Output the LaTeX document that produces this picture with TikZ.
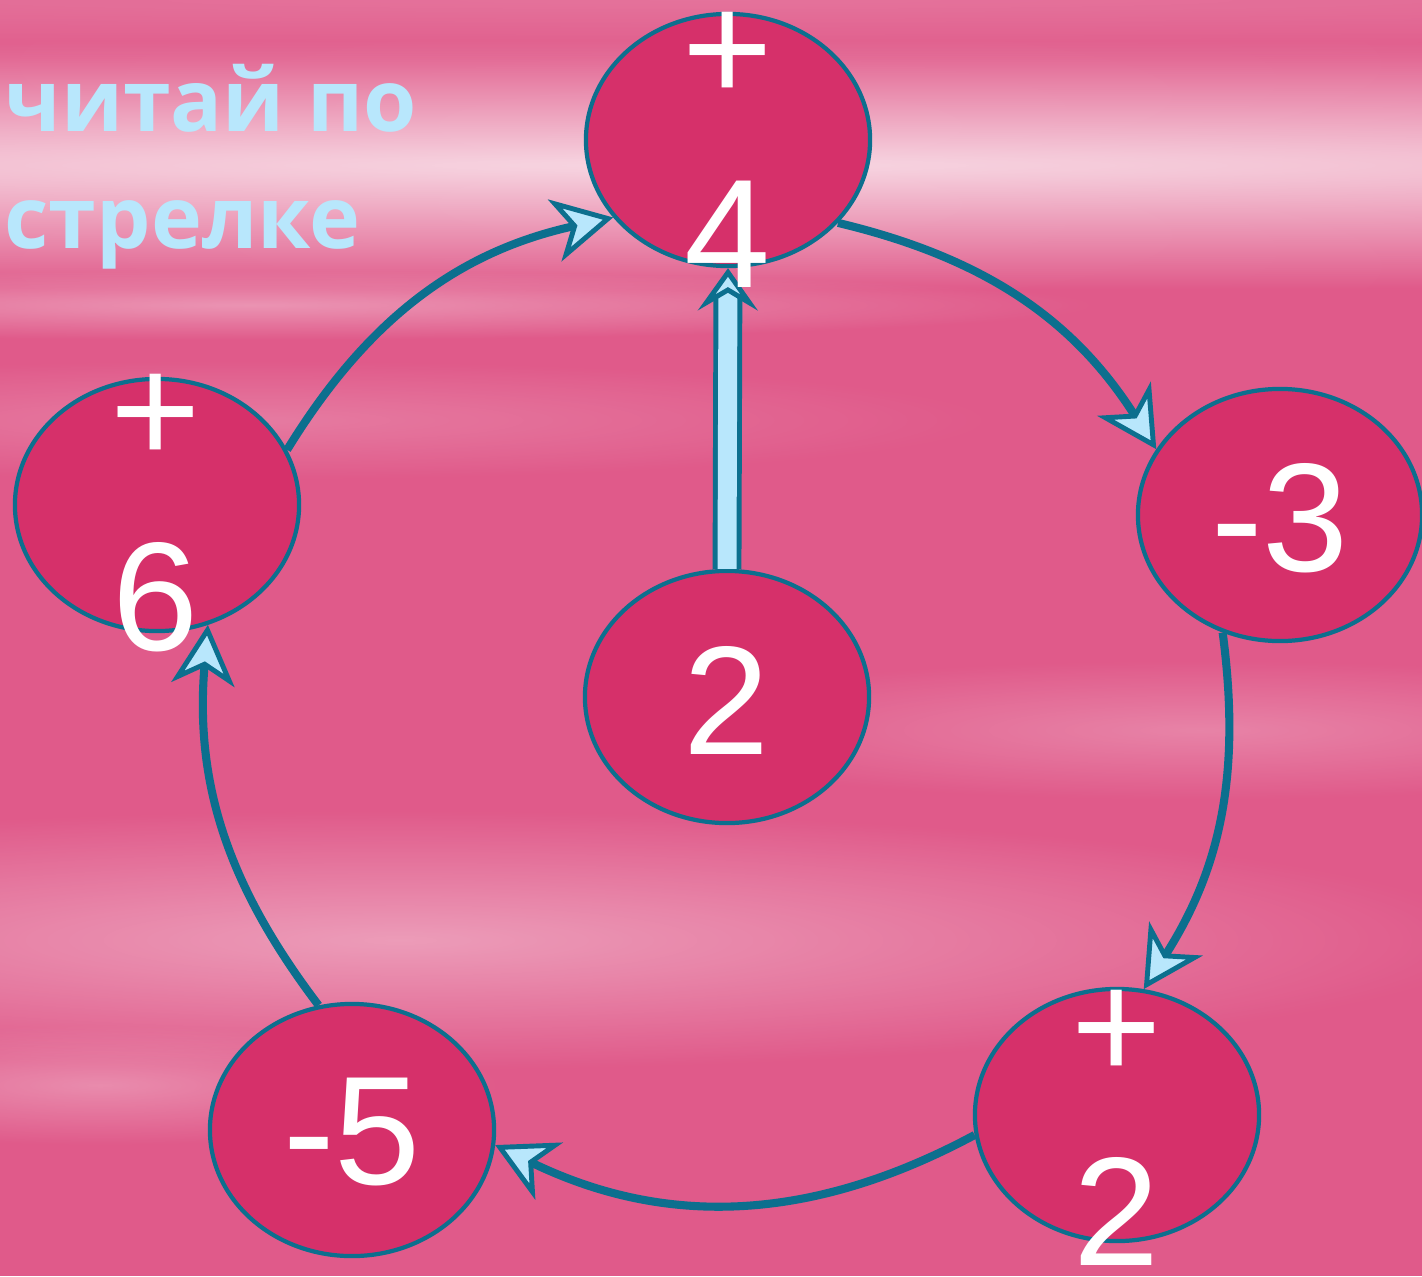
\documentclass[tikz,border=0pt]{standalone}
\usepackage{fontspec}
\setmainfont{Liberation Sans}
\newfontfamily\hintfont{Open Sans}
\usetikzlibrary{arrows.meta,shapes.geometric,fadings}
\definecolor{bgpink}{HTML}{E05A8A}
\definecolor{bubfill}{HTML}{D6306A}
\definecolor{tealrim}{HTML}{0C6F8E}
\definecolor{skyblue}{HTML}{B8E7FC}
\tikzfading[name=softblob,inner color=transparent!0,outer color=transparent!100]

\begin{document}
\begin{tikzpicture}[x=0.01cm,y=-0.01cm,
  bub/.style={ellipse,draw=tealrim,line width=1.2pt,fill=bubfill,minimum width=2.84cm,minimum height=2.52cm,inner sep=0pt},
  num/.style={text=white,align=center,font=\fontsize{44}{53}\selectfont,inner sep=0pt},
  link/.style={draw=tealrim,line width=2.3pt,-{Stealth[length=17pt,width=18pt,inset=5pt,fill=skyblue,line width=1.4pt 0]}},
  stem/.style={draw=tealrim,line width=1.4pt,double=skyblue,double distance=5.4pt,-{Stealth[length=12pt,width=17pt,inset=5pt,fill=skyblue]}},
  hint/.style={text=skyblue,align=left,font=\hintfont\bfseries\fontsize{24.5}{33}\selectfont,inner sep=0pt}
]
\useasboundingbox (0,0) rectangle (1422,1276);
% backdrop
\fill[bgpink] (0,0) rectangle (1422,1276);
\foreach \xa/\ya/\xb/\yb/\o in {-4000/40/5400/290/0.75,-3000/-60/4400/60/0.15,-600/270/1100/340/0.35,-500/360/1000/480/0.2,-700/810/1500/1070/0.4,-300/1025/500/1145/0.3,600/660/1800/800/0.25}
  \fill[white,opacity=\o,path fading=softblob] (\xa,\ya) rectangle (\xb,\yb);

% bubbles
\node[bub] (n4) at (728,140) {};
\node[bub] (n3) at (1280,515) {};
\node[bub] (n2b) at (1117,1115) {};
\node[bub] (n5) at (352,1130) {};
\node[bub] (n6) at (157,505) {};
\node[bub] (n2) at (727,697) {};

% arrows round the ring
\foreach \a/\b/\s/\e/\k in {n4/n3/-37/152/22,n3/n2b/-116/78/20,n2b/n5/188/-6/27,n5/n6/105/-67/21,n6/n4/23/214/23}
  \draw[link] (\a.\s) to[bend left=\k] (\b.\e);
\draw[stem] (n2.north) -- (n4.south);

% numbers
\node[num] (t4) at (728,150) {+\\4};
\node[num] (t3) at (1280,518) {-3};
\node[num] (t2b) at (1117,1128) {+\\2};
\node[num] (t5) at (352,1132) {-5};
\node[num] (t6) at (156,513) {+\\6};
\node[num] (t2) at (727,700) {2};
\node[hint,anchor=north west] (hint) at (4,64) {читай по\\стрелке};
\end{tikzpicture}
\end{document}
